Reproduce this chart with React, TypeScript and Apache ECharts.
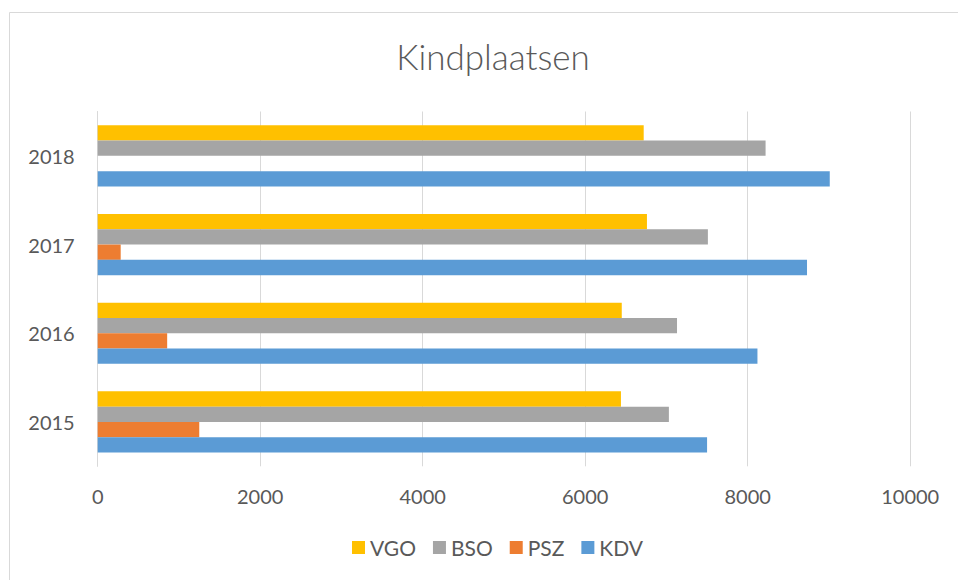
import React, { useEffect, useRef } from "react";
import * as echarts from "echarts";

const categories = ["2015", "2016", "2017", "2018"];
const kdv = [7500, 8120, 8730, 9010];
const psz = [1250, 855, 283, 0];
const bso = [7030, 7130, 7510, 8220];
const vgo = [6440, 6450, 6760, 6720];
const legendOrder = ["VGO", "BSO", "PSZ", "KDV"];

const FONT = "Lato";
const TXT = "#595959";

export default function App() {
  const ref = useRef<HTMLDivElement>(null);
  useEffect(() => {
    if (!ref.current) return;
    const chart = echarts.init(ref.current, undefined, { renderer: "svg" });
    const mk = (name: string, data: number[], color: string) => ({
      name,
      type: "bar",
      data,
      barGap: "0%",
      barCategoryGap: "31%",
      itemStyle: { color },
    });
    chart.setOption({
      animation: false,
      backgroundColor: "#ffffff",
      title: {
        text: "Kindplaatsen",
        left: 488,
        top: 33,
        textAlign: "center",
        textStyle: { fontFamily: FONT, fontSize: 35, fontWeight: 300, color: TXT },
      },
      graphic: [
        {
          type: "rect",
          shape: { x: 9.5, y: 12.5, width: 1000, height: 700 },
          style: { fill: "none", stroke: "#D9D9D9", lineWidth: 1 },
          silent: true,
        },
      ],
      legend: {
        data: legendOrder,
        bottom: 17,
        left: 347,
        itemWidth: 13,
        itemHeight: 13,
        itemGap: 17,
        icon: "rect",
        textStyle: { fontFamily: FONT, fontSize: 21, color: TXT },
      },
      grid: { left: 97.7, right: 47.8, top: 111.5, bottom: 113.7, containLabel: false },
      xAxis: {
        type: "value",
        min: 0,
        max: 10000,
        interval: 2000,
        axisLine: { show: false },
        axisTick: { show: false },
        splitLine: { lineStyle: { color: "#D9D9D9", width: 1 } },
        axisLabel: {
          fontFamily: FONT,
          fontSize: 20,
          color: TXT,
          margin: 20,
          formatter: (v: number) => String(v),
        },
      },
      yAxis: {
        type: "category",
        data: categories,
        axisLine: { show: true, lineStyle: { color: "#D9D9D9" } },
        axisTick: { show: false },
        axisLabel: { fontFamily: FONT, fontSize: 20, color: TXT, margin: 23 },
      },
      series: [
        mk("VGO", vgo, "#FFC000"),
        mk("BSO", bso, "#A5A5A5"),
        mk("PSZ", psz, "#ED7D31"),
        mk("KDV", kdv, "#5B9BD5"),
      ],
    });
    return () => chart.dispose();
  }, []);
  return (
    <div
      ref={ref}
      style={{ position: "fixed", left: 0, top: 0, width: 958, height: 580 }}
    />
  );
}
